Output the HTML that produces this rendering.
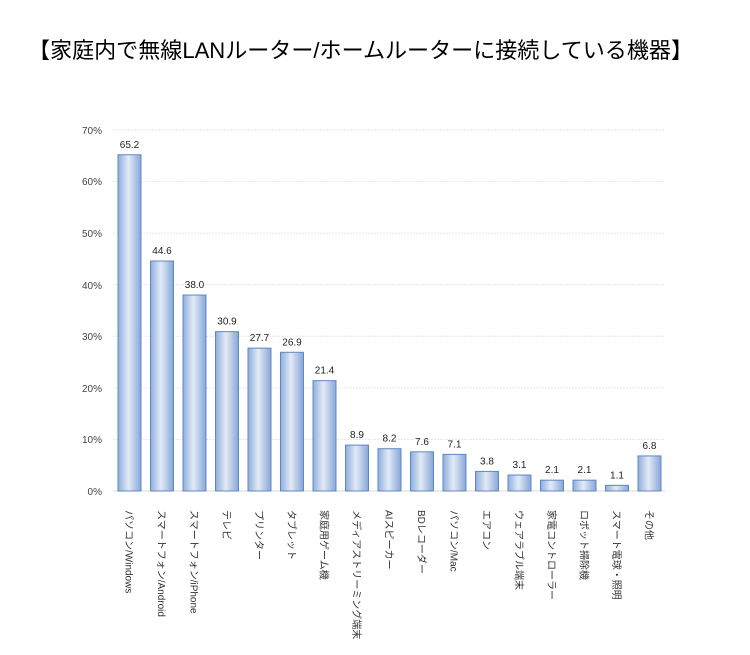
<!DOCTYPE html>
<html><head><meta charset="utf-8"><style>body{margin:0;background:#fff}</style></head><body>
<svg width="750" height="650" xmlns="http://www.w3.org/2000/svg" font-family="'Liberation Sans','Noto Sans CJK JP',sans-serif">
<defs>
<linearGradient id="g" x1="0" x2="1" y1="0" y2="0">
<stop offset="0" stop-color="#8eaedd"/><stop offset="0.45" stop-color="#e3eaf6"/><stop offset="1" stop-color="#86a6d8"/>
</linearGradient>
</defs>
<text x="28" y="58" font-size="22" textLength="665" lengthAdjust="spacingAndGlyphs" fill="#000">【家庭内で無線LANルーター/ホームルーター+に接続している機器】</text>
<g id="grid" stroke="#e6e6e6" stroke-dasharray="2,1">
<line x1="113" x2="665" y1="130" y2="130"/><line x1="113" x2="665" y1="181.6" y2="181.6"/><line x1="113" x2="665" y1="233.1" y2="233.1"/><line x1="113" x2="665" y1="284.7" y2="284.7"/><line x1="113" x2="665" y1="336.3" y2="336.3"/><line x1="113" x2="665" y1="387.9" y2="387.9"/><line x1="113" x2="665" y1="439.4" y2="439.4"/>
</g>
<line x1="113" x2="665" y1="491" y2="491" stroke="#d9d9d9"/>
<g font-size="10" fill="#444" text-anchor="end">
<text x="102" y="134">70%</text><text x="102" y="185">60%</text><text x="102" y="237">50%</text><text x="102" y="289">40%</text><text x="102" y="340">30%</text><text x="102" y="392">20%</text><text x="102" y="443">10%</text><text x="102" y="495">0%</text>
</g>
<g id="bars"></g>
</svg>
<script>
var v=[65.2,44.6,38.0,30.9,27.7,26.9,21.4,8.9,8.2,7.6,7.1,3.8,3.1,2.1,2.1,1.1,6.8];
var l=["パソコン/Windows","スマートフォン/Android","スマートフォン/iPhone","テレビ","プリンター","タブレット","家庭用ゲーム機","メディアストリーミング端末","AIスピーカー","BDレコーダー","パソコン/Mac","エアコン","ウェアラブル端末","家電コントローラー","ロボット掃除機","スマート電球・照明","その他"];
var g=document.getElementById('bars'),s='';
for(var i=0;i<17;i++){var c=129.5+i*32.5,h=v[i]*5.157,y=491-h;
s+='<rect x="'+(c-11.5)+'" y="'+y+'" width="23" height="'+h+'" fill="url(#g)" stroke="#5f87c6" stroke-width="1"/>';
s+='<text x="'+c+'" y="'+(y-7)+'" font-size="10" fill="#222" text-anchor="middle">'+v[i].toFixed(1)+'</text>';
s+='<text transform="translate('+(c-4)+',510) rotate(90)" font-size="10" fill="#333">'+l[i]+'</text>';}
g.innerHTML=s;
document.querySelector('text').textContent='【家庭内で無線LANルーター/ホームルーターに接続している機器】';
</script>
</body></html>
